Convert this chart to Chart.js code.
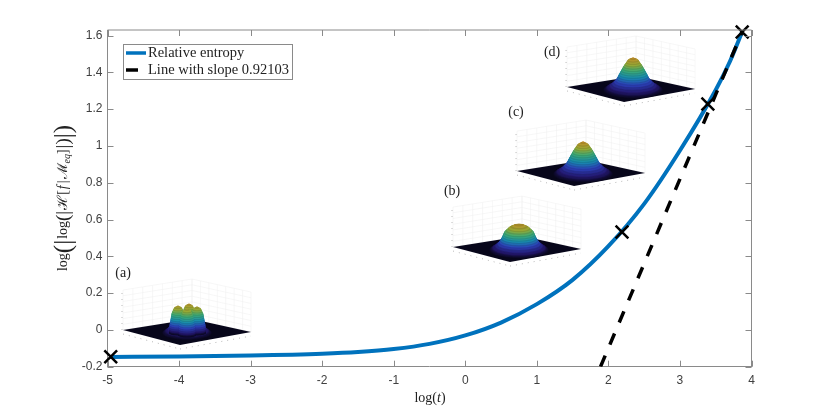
<!DOCTYPE html>
<html>
<head>
<meta charset="utf-8">
<title>Relative entropy</title>
<script src="https://cdn.jsdelivr.net/npm/chart.js@4"></script>
<style>
    html, body { margin: 0; padding: 0; background: #fff; }
    canvas { display: block; }
</style>
</head>
<body>
<canvas id="entropyChart" width="830" height="412"></canvas>
<script>
// --- Data ---
const logT = [-4.96, -4, -3, -2, -1.5, -1, -0.5, 0, 0.5, 1, 1.5, 2, 2.5, 3, 3.5, 3.7, 3.87];
const entropy = [-0.147, -0.145, -0.139, -0.129, -0.12, -0.104, -0.076, -0.03, 0.04, 0.14, 0.272, 0.455, 0.685, 0.975, 1.304, 1.46, 1.62];

const slopeX = [1.89, 3.87];
const slopeY = [-0.2, 1.62];

const markerX = [-4.955, 2.19, 3.39, 3.87];
const markerY = [-0.146, 0.532, 1.228, 1.619];

const xTicks = [-5, -4, -3, -2, -1, 0, 1, 2, 3, 4];
const yTicks = [-0.2, 0, 0.2, 0.4, 0.6, 0.8, 1, 1.2, 1.4, 1.6];

const legendLabels = ["Relative entropy", "Line with slope 0.92103"];

// Insets: where each little surface sits, in plot coordinates
const insetLabels = ["(a)", "(b)", "(c)", "(d)"];
const insetLabelX = [-4.783, -0.185, 0.709, 1.213];
const insetLabelY = [0.309, 0.755, 1.184, 1.51];
const insetX = [-3.861, 0.751, 1.646, 2.345];
const insetY = [-0.017, 0.434, 0.847, 1.304];

// Surface outlines: radius against height
const profileHeights = [0, 0.15, 0.3, 0.5, 0.7, 0.9, 1];
const radiiBody = [25, 20, 17, 14, 11, 0, 0];
const radiiLobe = [9, 9, 8.5, 7.5, 6.5, 4, 0];
const radiiDome = [30, 24, 20, 17, 15, 10, 5];
const radiiPeak = [30, 22, 17, 13.5, 10, 5.5, 0];

const BLUE = "#0072BD";
const BOX = "#8a8a8a";
const SERIF = '"Liberation Serif", serif';

function lerp(a, b, f) { return a + (b - a) * f; }

function radiusAt(radii, h) {
    for (let i = 1; i < profileHeights.length; i++) {
        if (h <= profileHeights[i]) {
            const f = (h - profileHeights[i - 1]) / (profileHeights[i] - profileHeights[i - 1]);
            return lerp(radii[i - 1], radii[i], f);
        }
    }
    return radii[radii.length - 1];
}

const surfaceColors = [
    [0, 10, 8, 32], [0.1, 36, 24, 110], [0.28, 45, 65, 185], [0.46, 25, 140, 175],
    [0.64, 60, 170, 120], [0.8, 150, 170, 55], [1, 200, 140, 40]
];

function surfaceColor(h, ring) {
    let c = surfaceColors[surfaceColors.length - 1];
    for (let i = 1; i < surfaceColors.length; i++) {
        if (h <= surfaceColors[i][0]) {
            const a = surfaceColors[i - 1], b = surfaceColors[i];
            const f = (h - a[0]) / (b[0] - a[0]);
            c = [h, lerp(a[1], b[1], f), lerp(a[2], b[2], f), lerp(a[3], b[3], f)];
            break;
        }
    }
    const shade = ring % 2 ? 0.9 : 1; // mesh lines of the surface
    return `rgb(${c[1] * shade | 0}, ${c[2] * shade | 0}, ${c[3] * shade | 0})`;
}

function drawColumn(ctx, cx, cy, radii, height, maxHeight) {
    const rings = Math.round(height * 2);
    for (let i = 0; i <= rings; i++) {
        const h = i / rings;
        const r = radiusAt(radii, h);
        if (r <= 0) continue;
        ctx.fillStyle = surfaceColor(h * height / maxHeight, Math.floor(i / 2));
        ctx.beginPath();
        ctx.ellipse(cx, cy - h * height, r, r * 0.28, 0, 0, Math.PI * 2);
        ctx.fill();
    }
}

function wallLine(ctx, x1, y1, x2, y2) {
    ctx.beginPath();
    ctx.moveTo(x1, y1);
    ctx.lineTo(x2, y2);
    ctx.stroke();
}

function drawInsetFrame(ctx, x, y) {
    // corners around the base centre
    const L = [x - 66, y - 3], B = [x + 3, y - 14], R = [x + 62, y - 1], F = [x - 9, y + 12];
    const up = 40;
    ctx.save();
    ctx.lineWidth = 0.5;
    ctx.strokeStyle = "#efefef";
    for (let i = 0; i <= 7; i++) {
        const f = i / 7;
        wallLine(ctx, lerp(L[0], B[0], f), lerp(L[1], B[1], f), lerp(L[0], B[0], f), lerp(L[1], B[1], f) - up);
        wallLine(ctx, lerp(R[0], B[0], f), lerp(R[1], B[1], f), lerp(R[0], B[0], f), lerp(R[1], B[1], f) - up);
        wallLine(ctx, L[0], L[1] - up * f, B[0], B[1] - up * f);
        wallLine(ctx, R[0], R[1] - up * f, B[0], B[1] - up * f);
    }
    // speckle of the tiny tick labels
    ctx.strokeStyle = "#b8b8b8";
    ctx.lineWidth = 1;
    ctx.setLineDash([1, 5]);
    wallLine(ctx, L[0], L[1] + 4, F[0], F[1] + 4);
    wallLine(ctx, F[0], F[1] + 4, R[0], R[1] + 4);
    wallLine(ctx, L[0] - 1, L[1], L[0] - 1, L[1] - up);
    ctx.setLineDash([]);

    ctx.fillStyle = "#07061a";
    ctx.beginPath();
    ctx.moveTo(L[0], L[1]);
    ctx.lineTo(B[0], B[1]);
    ctx.lineTo(R[0], R[1]);
    ctx.lineTo(F[0], F[1]);
    ctx.closePath();
    ctx.fill();
    ctx.restore();
}

// Draw the four surfaces behind the curves
const insetPlugin = {
    id: "insets",
    beforeDatasetsDraw(chart) {
        const ctx = chart.ctx, sx = chart.scales.x, sy = chart.scales.y;
        insetLabels.forEach((label, i) => {
            const x = sx.getPixelForValue(insetX[i]);
            const y = sy.getPixelForValue(insetY[i]);
            drawInsetFrame(ctx, x, y);
            if (i === 0) {
                drawColumn(ctx, x - 2, y, radiiBody, 22, 30);
                drawColumn(ctx, x, y - 1, radiiLobe, 29, 30);
                drawColumn(ctx, x - 11, y, radiiLobe, 28, 30);
                drawColumn(ctx, x + 8, y, radiiLobe, 27, 30);
                drawColumn(ctx, x - 2, y + 2, radiiLobe, 27, 30);
            } else if (i === 1) {
                drawColumn(ctx, x, y, radiiDome, 25, 27);
            } else {
                drawColumn(ctx, x, y, radiiPeak, 33, 33);
            }
            ctx.save();
            ctx.fillStyle = "#222";
            ctx.font = "14px " + SERIF;
            ctx.textAlign = "center";
            ctx.textBaseline = "middle";
            ctx.fillText(label, sx.getPixelForValue(insetLabelX[i]), sy.getPixelForValue(insetLabelY[i]));
            ctx.restore();
        });
    }
};

// MATLAB style inward ticks on all four sides
const ticksPlugin = {
    id: "boxTicks",
    afterDatasetsDraw(chart) {
        const ctx = chart.ctx, a = chart.chartArea;
        ctx.save();
        ctx.strokeStyle = BOX;
        ctx.lineWidth = 1;
        chart.scales.x.ticks.forEach(t => {
            const x = Math.round(chart.scales.x.getPixelForValue(t.value)) + 0.5;
            wallLine(ctx, x, a.bottom, x, a.bottom - 6);
            wallLine(ctx, x, a.top, x, a.top + 6);
        });
        chart.scales.y.ticks.forEach(t => {
            const y = Math.round(chart.scales.y.getPixelForValue(t.value)) + 0.5;
            wallLine(ctx, a.left, y, a.left + 6, y);
            wallLine(ctx, a.right, y, a.right - 6, y);
        });
        ctx.restore();
    }
};

// Text run with mixed fonts, centred on the current origin
function drawRuns(ctx, runs) {
    let total = 0;
    runs.forEach(r => {
        ctx.font = r.font;
        total += ctx.measureText(r.text).width + (r.gap || 0);
    });
    let x = -total / 2;
    ctx.textAlign = "left";
    ctx.textBaseline = "alphabetic";
    runs.forEach(r => {
        ctx.font = r.font;
        ctx.fillText(r.text, x, r.dy || 0);
        x += ctx.measureText(r.text).width + (r.gap || 0);
    });
}

const roman = "14px " + SERIF, italic = "italic 14px " + SERIF;
const big = "25px " + SERIF, mid = "19px " + SERIF, sub = "italic 10px " + SERIF;
const script = '14px "DejaVu Serif", serif';
const xTitleRuns = [
    { text: "log(", font: roman }, { text: "t", font: italic }, { text: ")", font: roman }
];
const yTitleRuns = [
    { text: "log", font: roman }, { text: "(", font: big, dy: 4 }, { text: "|", font: big, dy: 4, gap: 1 },
    { text: "log", font: roman }, { text: "(", font: mid, dy: 2 }, { text: "|", font: mid, dy: 2, gap: 1 },
    { text: "ℋ", font: script }, { text: "[", font: roman, gap: 1 }, { text: "f", font: italic, gap: 2 },
    { text: "|", font: roman, gap: 1 }, { text: "ℳ", font: script }, { text: "eq", font: sub, dy: 3 },
    { text: "]", font: roman, gap: 1 }, { text: "|", font: mid, dy: 2 }, { text: ")", font: mid, dy: 2 },
    { text: "|", font: big, dy: 4 }, { text: ")", font: big, dy: 4 }
];

const titlesPlugin = {
    id: "mathTitles",
    afterDraw(chart) {
        const ctx = chart.ctx;
        ctx.save();
        ctx.fillStyle = "#222";
        ctx.translate(430, 402);
        drawRuns(ctx, xTitleRuns);
        ctx.restore();
        ctx.save();
        ctx.fillStyle = "#222";
        ctx.translate(67, 198);
        ctx.rotate(-Math.PI / 2);
        drawRuns(ctx, yTitleRuns);
        ctx.restore();
    }
};

// Legend box inside the axes, upper left
const legendPlugin = {
    id: "boxLegend",
    afterDraw(chart) {
        const ctx = chart.ctx;
        ctx.save();
        ctx.fillStyle = "#fff";
        ctx.strokeStyle = BOX;
        ctx.lineWidth = 1;
        ctx.fillRect(123.5, 44.5, 169, 35);
        ctx.strokeRect(123.5, 44.5, 169, 35);
        ctx.lineWidth = 3.5;
        ctx.strokeStyle = BLUE;
        wallLine(ctx, 126, 53, 146, 53);
        ctx.strokeStyle = "#000";
        wallLine(ctx, 126, 70, 138, 70);
        ctx.fillStyle = "#222";
        ctx.font = "14.5px " + SERIF;
        ctx.textBaseline = "middle";
        ctx.fillText(legendLabels[0], 148, 53);
        ctx.fillText(legendLabels[1], 148, 70);
        ctx.restore();
    }
};

const tickFont = { family: '"Liberation Sans", sans-serif', size: 12 };

new Chart(document.getElementById("entropyChart").getContext("2d"), {
    type: "scatter",
    data: {
        datasets: [
            {
                label: legendLabels[0],
                data: logT.map((x, i) => ({ x: x, y: entropy[i] })),
                showLine: true,
                borderColor: BLUE,
                borderWidth: 4,
                pointRadius: 0,
                cubicInterpolationMode: "monotone",
                order: 3
            },
            {
                label: legendLabels[1],
                data: slopeX.map((x, i) => ({ x: x, y: slopeY[i] })),
                showLine: true,
                borderColor: "#000",
                borderWidth: 3.5,
                borderDash: [12, 12],
                pointRadius: 0,
                order: 2
            },
            {
                label: "Marked times",
                data: markerX.map((x, i) => ({ x: x, y: markerY[i] })),
                pointStyle: "crossRot",
                pointRadius: 9,
                pointBorderColor: "#000",
                pointBorderWidth: 2.5,
                clip: false,
                order: 1
            }
        ]
    },
    options: {
        responsive: false,
        animation: false,
        layout: { padding: { top: 30, right: 78.5, left: 0, bottom: 0 } },
        plugins: { legend: { display: false }, tooltip: { enabled: false } },
        scales: {
            x: {
                type: "linear",
                min: -5,
                max: 4,
                afterFit: s => { s.height = 45.3; },
                afterBuildTicks: s => { s.ticks = xTicks.map(v => ({ value: v })); },
                grid: { drawOnChartArea: false, drawTicks: false },
                border: { color: BOX },
                ticks: { color: "#404040", font: tickFont, padding: 7, autoSkip: false, maxRotation: 0, callback: v => String(v) }
            },
            y: {
                type: "linear",
                min: -0.2,
                max: 1.63,
                afterFit: s => { s.width = 107.5; },
                afterBuildTicks: s => { s.ticks = yTicks.map(v => ({ value: v })); },
                grid: { drawOnChartArea: false, drawTicks: false },
                border: { color: BOX },
                ticks: { color: "#404040", font: tickFont, padding: 5, autoSkip: false, callback: v => String(v) }
            }
        }
    },
    plugins: [insetPlugin, ticksPlugin, titlesPlugin, legendPlugin, {
        id: "boxEdges",
        afterDraw(chart) {
            const ctx = chart.ctx, a = chart.chartArea;
            ctx.save();
            ctx.strokeStyle = BOX;
            ctx.lineWidth = 1;
            wallLine(ctx, a.left, a.top, a.right, a.top);
            wallLine(ctx, a.right, a.top, a.right, a.bottom);
            ctx.restore();
        }
    }]
});
</script>
</body>
</html>
